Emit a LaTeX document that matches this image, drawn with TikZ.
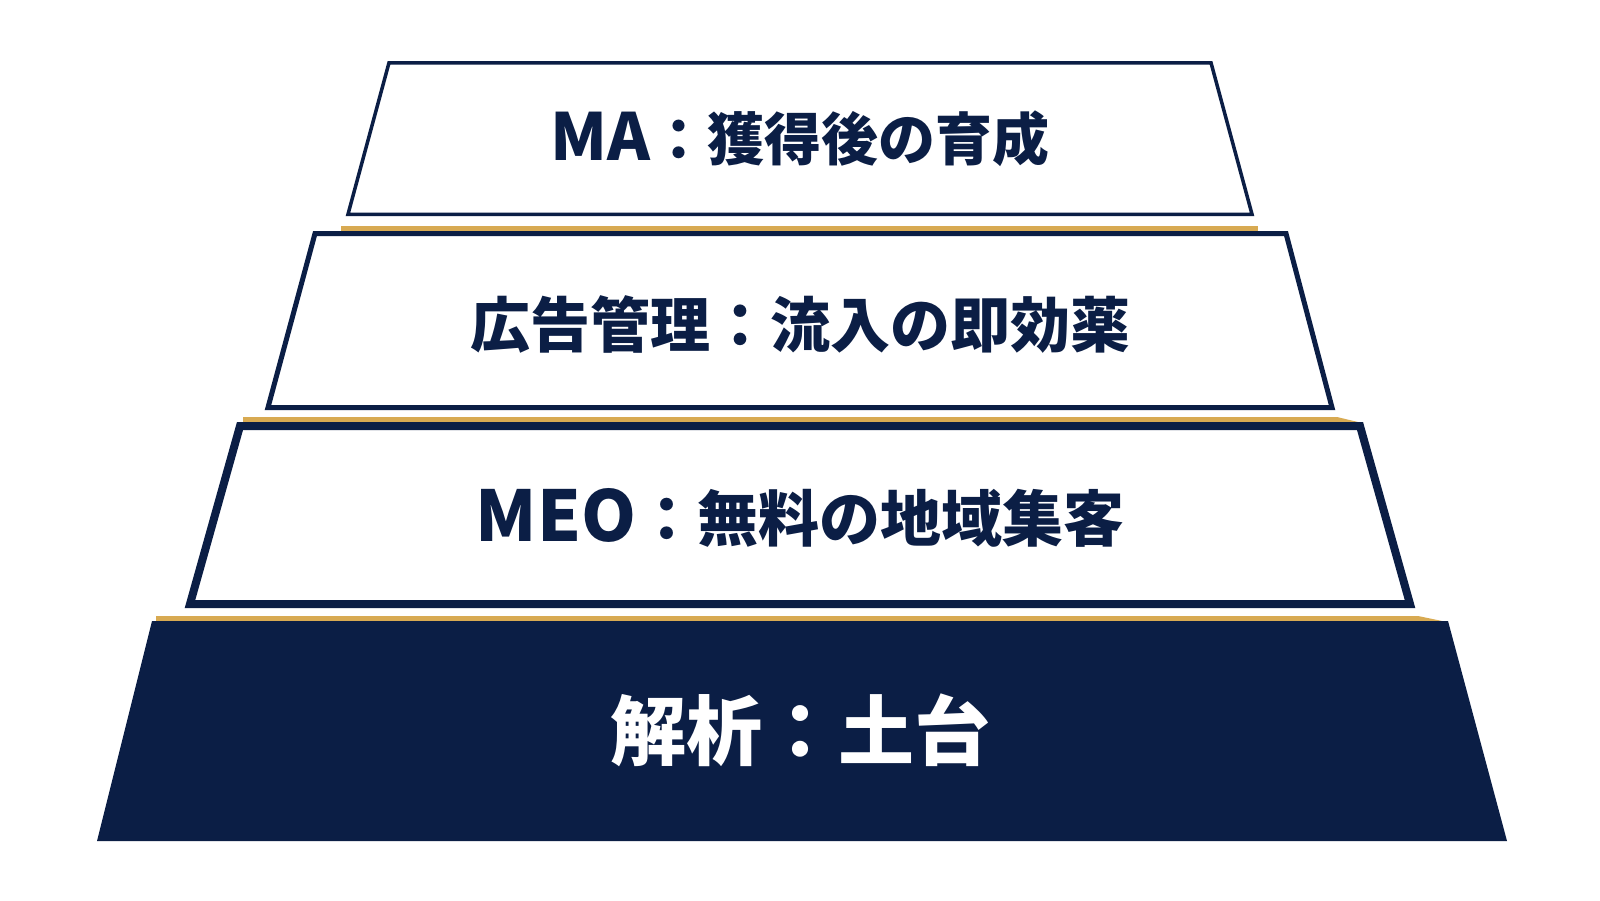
\documentclass[tikz,border=0pt]{standalone}
\usepackage{fontspec}
\newfontfamily\jp{Noto Sans CJK JP}
\definecolor{navy}{HTML}{0B1E45}
\definecolor{gold}{HTML}{D8AA52}
\begin{document}
\begin{tikzpicture}[x=1pt,y=-1pt,
  tier/.style={draw=navy,fill=white,line join=miter},
  goldbar/.style={fill=gold,draw=none},
  lbl/.style={anchor=base,inner sep=0pt,text=navy,font=\jp\bfseries}]
\useasboundingbox[fill=white] (0,0) rectangle (1600,900);
% gold bars
\fill[goldbar] (341,226) -- (1258,226) -- (1258,231) -- (341,231) -- cycle;
\fill[goldbar] (243,417) -- (1337,417) -- (1360,422.5) -- (243,422.5) -- cycle;
\fill[goldbar] (156,616) -- (1418,616) -- (1447,622) -- (156,622) -- cycle;
% tiers
\path[tier,line width=3.5pt] (389,62.75) -- (1211,62.75) -- (1252,214.25) -- (348,214.25) -- cycle;
\path[tier,line width=5pt] (315,233.5) -- (1286,233.5) -- (1332,407.5) -- (268,407.5) -- cycle;
\path[tier,line width=8pt] (240,426) -- (1360,426) -- (1410,604) -- (190,604) -- cycle;
\fill[navy] (152,621) -- (1448,621) -- (1507,841) -- (97,841) -- cycle;
% labels
\node[lbl,font=\jp\bfseries\fontsize{57}{57}\selectfont] (t1) at (800,160) {{\fontsize{65}{65}\selectfont MA}：獲得後の育成};
\node[lbl,font=\jp\bfseries\fontsize{60}{60}\selectfont] (t2) at (800,347) {広告管理：流入の即効薬};
\node[lbl,font=\jp\bfseries\fontsize{61}{61}\selectfont] (t3) at (800,541) {{\fontsize{70}{70}\selectfont MEO}：無料の地域集客};
\node[lbl,text=white,font=\jp\bfseries\fontsize{76}{76}\selectfont] (t4) at (800,759) {解析：土台};
\end{tikzpicture}
\end{document}
